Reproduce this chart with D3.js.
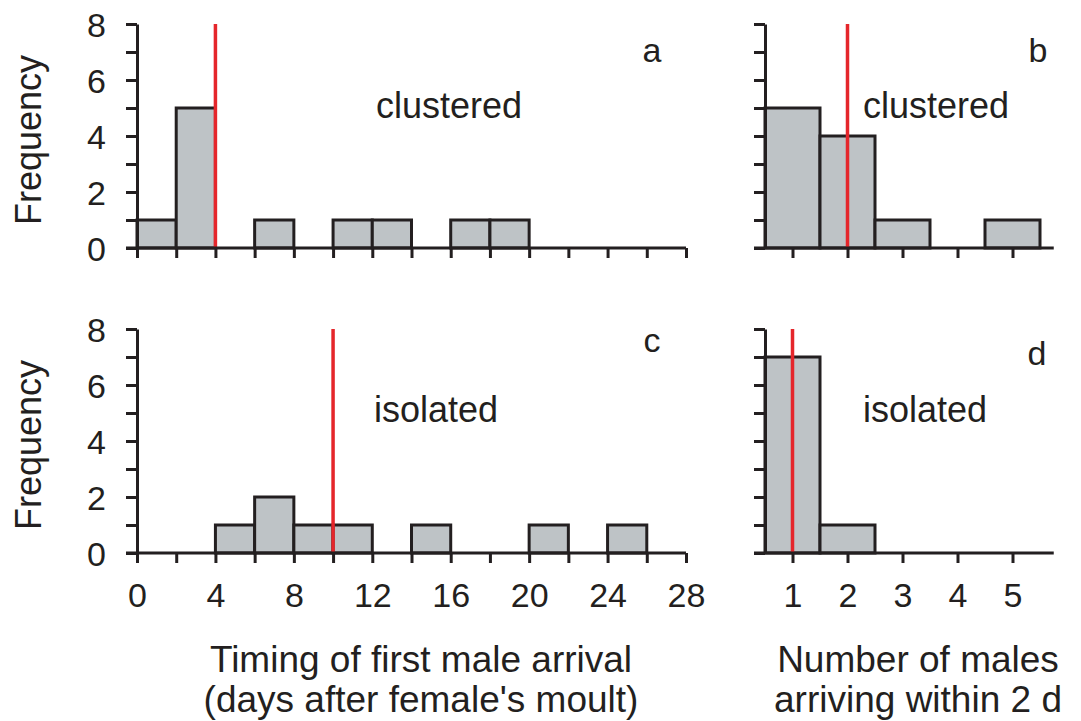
<!DOCTYPE html>
<html>
<head>
<meta charset="utf-8">
<title>Timing and number of male arrivals</title>
<script src="https://cdn.jsdelivr.net/npm/d3@7"></script>
<style>
  body { margin: 0; background: #fff; }
  svg { display: block; font-family: "Liberation Sans", Arial, sans-serif; }
  .axis path, .axis line { stroke: #231f20; stroke-width: 3; }
  .axis text { fill: #231f20; font-size: 34px; font-family: "Liberation Sans", Arial, sans-serif; }
</style>
</head>
<body>
<div id="chart"></div>
<script>
// data
const dayBins = [0, 2, 4, 6, 8, 10, 12, 14, 16, 18, 20, 22, 24, 26];
const dayTicks = [0, 4, 8, 12, 16, 20, 24, 28];
const clusteredDays = [1, 5, 0, 1, 0, 1, 1, 0, 1, 1, 0, 0, 0, 0];
const isolatedDays = [0, 0, 1, 2, 1, 1, 0, 1, 0, 0, 1, 0, 1, 0];
const maleCounts = [1, 2, 3, 4, 5];
const clusteredMales = [5, 4, 1, 0, 1];
const isolatedMales = [7, 1, 0, 0, 0];
const freqTicks = [0, 2, 4, 6, 8];
const medians = { a: 4, b: 2, c: 10, d: 1 };

const width = 1081, height = 721;
const ink = "#231f20", barFill = "#bec3c6", red = "#e5262b";

const svg = d3.select("#chart").append("svg")
  .attr("width", width)
  .attr("height", height);

const xDays = d3.scaleLinear().domain([0, 28]).range([137, 686]);
const xMales = d3.scaleLinear().domain([0.5, 5.75]).range([765, 1053.75]);
const yTop = d3.scaleLinear().domain([0, 8]).range([248, 24]);
const yBot = d3.scaleLinear().domain([0, 8]).range([553, 329]);

function panel(opts) {
  const { x, y, bins, binW, values, median, showY, showXLabels, xTicks, minorTicks, letter, letterPos, tag, tagPos } = opts;
  const g = svg.append("g");

  const bars = bins.map((b, i) => ({ x0: b, x1: b + binW, v: values[i] })).filter(d => d.v > 0);
  g.selectAll("rect").data(bars).join("rect")
    .attr("x", d => x(d.x0))
    .attr("width", d => x(d.x1) - x(d.x0))
    .attr("y", d => y(d.v))
    .attr("height", d => y(0) - y(d.v))
    .attr("fill", barFill)
    .attr("stroke", ink)
    .attr("stroke-width", 3);

  g.append("line")
    .attr("x1", x(median)).attr("x2", x(median))
    .attr("y1", y(8)).attr("y2", y(0))
    .attr("stroke", red).attr("stroke-width", 3.5);

  // y axis
  const yAx = g.append("g").attr("class", "axis")
    .attr("transform", `translate(${x.range()[0]},0)`)
    .call(d3.axisLeft(y).tickValues(d3.range(0, 9, 1)).tickSize(11).tickPadding(20).tickSizeOuter(0)
      .tickFormat(d => showY && freqTicks.includes(d) ? d : ""));
  yAx.selectAll(".tick text").attr("dy", "0.36em");

  // x axis
  const xAx = g.append("g").attr("class", "axis")
    .attr("transform", `translate(0,${y(0)})`)
    .call(d3.axisBottom(x).tickValues(minorTicks).tickSize(10).tickSizeOuter(0)
      .tickFormat(d => showXLabels && xTicks.includes(d) ? d : ""));
  xAx.select(".domain").remove();
  xAx.selectAll(".tick text").attr("dy", "1.2em");
  xAx.append("line")
    .attr("x1", x.range()[0] - 11).attr("x2", x.range()[1])
    .attr("stroke", ink).attr("stroke-width", 3);

  g.append("text").text(letter)
    .attr("x", letterPos[0]).attr("y", letterPos[1])
    .attr("text-anchor", "middle")
    .attr("font-size", 34).attr("fill", ink);
  g.append("text").text(tag)
    .attr("x", tagPos[0]).attr("y", tagPos[1])
    .attr("font-size", 36).attr("fill", ink);
}

panel({ x: xDays, y: yTop, bins: dayBins, binW: 2, values: clusteredDays, median: medians.a,
  showY: true, showXLabels: false, xTicks: dayTicks, minorTicks: d3.range(0, 29, 2),
  letter: "a", letterPos: [652, 62], tag: "clustered", tagPos: [376, 118] });
panel({ x: xMales, y: yTop, bins: maleCounts.map(d => d - 0.5), binW: 1, values: clusteredMales, median: medians.b,
  showY: false, showXLabels: false, xTicks: maleCounts, minorTicks: maleCounts,
  letter: "b", letterPos: [1038, 62], tag: "clustered", tagPos: [863, 118] });
panel({ x: xDays, y: yBot, bins: dayBins, binW: 2, values: isolatedDays, median: medians.c,
  showY: true, showXLabels: true, xTicks: dayTicks, minorTicks: d3.range(0, 29, 2),
  letter: "c", letterPos: [652, 352], tag: "isolated", tagPos: [374, 422] });
panel({ x: xMales, y: yBot, bins: maleCounts.map(d => d - 0.5), binW: 1, values: isolatedMales, median: medians.d,
  showY: false, showXLabels: true, xTicks: maleCounts, minorTicks: maleCounts,
  letter: "d", letterPos: [1037, 365], tag: "isolated", tagPos: [863, 422] });

// y titles
[yTop, yBot].forEach(y => {
  svg.append("text").text("Frequency")
    .attr("transform", `translate(41,${(y(0) + y(8)) / 2 + 4}) rotate(-90)`)
    .attr("text-anchor", "middle")
    .attr("font-size", 36).attr("fill", ink);
});

// x titles
svg.append("text").attr("text-anchor", "middle").attr("font-size", 37).attr("fill", ink)
  .selectAll("tspan").data(["Timing of first male arrival", "(days after female's moult)"]).join("tspan")
  .attr("x", 421).attr("y", (d, i) => 672 + i * 40).text(d => d);
svg.append("text").attr("text-anchor", "middle").attr("font-size", 37).attr("fill", ink)
  .selectAll("tspan").data(["Number of males", "arriving within 2 d"]).join("tspan")
  .attr("x", 918).attr("y", (d, i) => 672 + i * 40).text(d => d);
</script>
</body>
</html>
